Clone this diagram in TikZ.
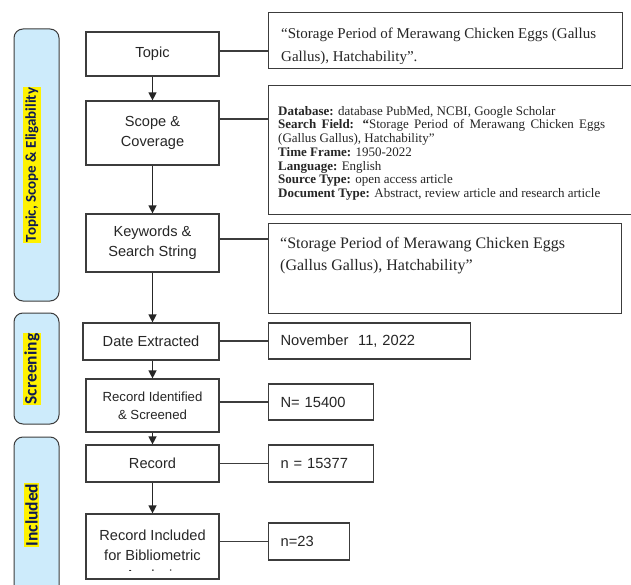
\documentclass[tikz,border=0pt]{standalone}
\usepackage{fontspec}
\setmainfont{Liberation Serif}
\newfontfamily\arialfont{Liberation Sans}
\newfontfamily\calfont{Carlito}
\usepackage{tikz}
\usetikzlibrary{positioning}
\usetikzlibrary{arrows.meta}
\definecolor{barblue}{HTML}{CDEBFB}
\definecolor{navy}{HTML}{0E1B52}
\definecolor{boxgray}{HTML}{3C3C3C}
\tolerance=10000
\hbadness=10000

\begin{document}
\begin{tikzpicture}[x=1pt,y=-1pt,
    stagebar/.style={draw=boxgray, line width=1pt, fill=barblue, rounded corners=9pt},
    stagelabel/.style={fill=yellow, text=navy, inner xsep=0.5pt, inner ysep=1.5pt, rotate=90, font=\calfont\bfseries\fontsize{17.5}{20}\selectfont},
    mainbox/.style={draw=boxgray, line width=1.2pt, minimum width=133pt, inner sep=0pt, align=center, text=black!85, font=\arialfont\fontsize{14.6}{20}\selectfont},
    infobox/.style={draw=boxgray, line width=1.2pt, inner sep=0pt, anchor=north west},
    infotext/.style={anchor=north west, inner sep=0pt, text=black!85},
    numbox/.style={draw=boxgray, line width=1.2pt, anchor=west, inner xsep=12pt, inner ysep=0pt, align=left, text=black!85, font=\arialfont\fontsize{14.7}{18}\selectfont},
    flow/.style={draw=black!85, line width=1.3pt, -{Triangle[length=8pt,width=8pt]}},
    link/.style={draw=boxgray, line width=1.2pt}]
        \clip (0,0) rectangle (631,585);
        \fill[white] (0,0) rectangle (631,585);

        \draw[stagebar] (14,29) rectangle (59,301);
        \draw[stagebar] (14,313) rectangle (59,424);
        \draw[stagebar] (14,437) rectangle (59,600);
        \node[stagelabel, inner ysep=2.5pt, font=\calfont\bfseries\fontsize{15}{18}\selectfont] (tselabel) at (32,165) {Topic, Scope \& Eligability};
        \node[stagelabel] (screenlabel) at (32,369) {Screening};
        \node[stagelabel] (includelabel) at (31.5,515) {Included};

        \node[mainbox, minimum height=44pt] (topic) at (152.5,54) {Topic};
        \node[mainbox, minimum height=64pt] (scope) at (152.5,133) {Scope \&\\Coverage};
        \node[mainbox, minimum height=58pt] (keywords) at (152.5,243) {};
        \begin{scope}
        \clip (keywords.north west) rectangle ([yshift=12pt]keywords.south east);
        \node[mainbox, draw=none] (keywordstext) at (keywords) {Keywords \&\\Search String};
        \end{scope}
        \node[mainbox, minimum width=136pt, minimum height=37pt] (date) at (151,341.5) {Date Extracted};
        \node[mainbox, minimum height=53pt, font=\arialfont\fontsize{13.2}{18}\selectfont] (identified) at (152.5,405.5) {Record Identified\\\& Screened};
        \node[mainbox, minimum height=37pt] (record) at (152.5,463.5) {Record};
        \node[mainbox, minimum height=65pt] (included) at (152.5,546.5) {};
        \begin{scope}
        \clip (included.north west) rectangle ([yshift=9pt]included.south east);
        \node[mainbox, draw=none, anchor=north] (includedtext) at ([yshift=-15.5pt]included.north) {Record Included\\for Bibliometric\\Analysis};
        \end{scope}

        \node[infobox, minimum width=354pt, minimum height=56pt] (topicinfo) at (268,12) {};
        \begin{scope}
        \clip (topicinfo.north west) rectangle ([yshift=5.5pt]topicinfo.south east);
        \node[infotext, align=left, font=\fontsize{15}{23}\selectfont] (topicinfotext) at (281,28) {“Storage Period of Merawang Chicken Eggs (Gallus\\Gallus), Hatchability”.};
        \end{scope}
        \node[infobox, minimum width=380pt, minimum height=129pt] (scopeinfo) at (268,85) {};
        \node[infotext, text width=327pt, align=justify, font=\fontsize{13}{13.7}\selectfont] (scopeinfotext) at (278,106) {\textbf{Database:} database PubMed, NCBI, Google Scholar\\
            \textbf{Search Field: “}Storage Period of Merawang Chicken Eggs (Gallus Gallus), Hatchability”\\
            \textbf{Time Frame:} 1950-2022\\
            \textbf{Language:} English\\
            \textbf{Source Type:} open access article\\
            \textbf{Document Type:} Abstract, review article and research article};
        \node[infobox, minimum width=353pt, minimum height=90pt] (keywordsinfo) at (268,223) {};
        \node[infotext, align=left, font=\fontsize{16}{22}\selectfont] (keywordsinfotext) at (280,237) {“Storage Period of Merawang Chicken Eggs\\(Gallus Gallus), Hatchability”};

        \node[numbox, text width=178pt, minimum height=36pt] (dateinfo) at (268,341) {November\ \ 11, 2022};
        \node[numbox, text width=81pt, minimum height=36pt] (identifiedinfo) at (268,402) {N= 15400};
        \node[numbox, text width=81pt, minimum height=37pt] (recordinfo) at (268,463.5) {n = 15377};
        \node[numbox, text width=57pt, minimum height=37pt] (includedinfo) at (268,541.5) {n=23};

        \draw[flow] (topic) -- (scope);
        \draw[flow] (scope) -- (keywords);
        \draw[flow] (keywords.south) -- (keywords.south |- date.north);
        \draw[flow] (identified.north |- date.south) -- (identified.north);
        \draw[flow] (identified) -- (record);
        \draw[flow] (record) -- (included);

        \draw[link] ([yshift=3pt]topic.east) -- ([yshift=3pt]topic.east -| topicinfo.west);
        \draw[link] ([yshift=14pt]scope.east) -- ([yshift=14pt]scope.east -| scopeinfo.west);
        \draw[link] ([yshift=4pt]keywords.east) -- ([yshift=4pt]keywords.east -| keywordsinfo.west);
        \draw[link] (dateinfo.west -| date.east) -- (dateinfo.west);
        \draw[link] (identifiedinfo.west -| identified.east) -- (identifiedinfo.west);
        \draw[link] (recordinfo.west -| record.east) -- (recordinfo.west);
        \draw[link] (includedinfo.west -| included.east) -- (includedinfo.west);
\end{tikzpicture}
\end{document}
